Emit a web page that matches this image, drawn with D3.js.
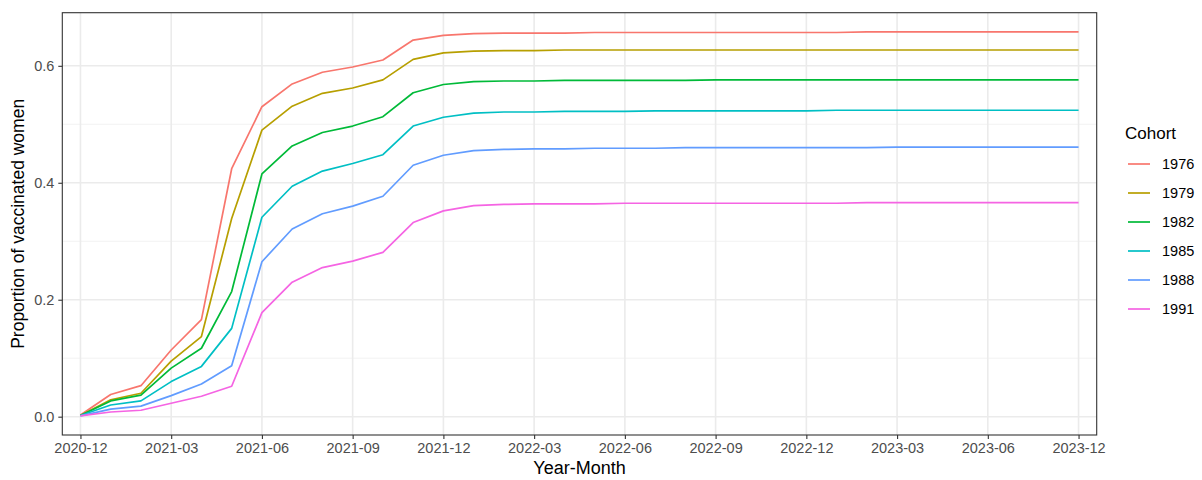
<!DOCTYPE html>
<html>
<head>
<meta charset="utf-8">
<script src="https://cdn.jsdelivr.net/npm/d3@7"></script>
<style>
  body { margin: 0; background: #fff; }
  text { font-family: "Liberation Sans", Arial, sans-serif; }
</style>
</head>
<body>
<svg id="chart" width="1202" height="480"></svg>
<script>
var months = ["2020-12","2021-01","2021-02","2021-03","2021-04","2021-05","2021-06","2021-07",
  "2021-08","2021-09","2021-10","2021-11","2021-12","2022-01","2022-02","2022-03","2022-04",
  "2022-05","2022-06","2022-07","2022-08","2022-09","2022-10","2022-11","2022-12","2023-01",
  "2023-02","2023-03","2023-04","2023-05","2023-06","2023-08","2023-10","2023-12"];

var tickLabels = ["2020-12","2021-03","2021-06","2021-09","2021-12","2022-03","2022-06",
  "2022-09","2022-12","2023-03","2023-06","2023-12"];

var cohorts = ["1976","1979","1982","1985","1988","1991"];

var colors = ["#F8766D","#B79F00","#00BA38","#00BFC4","#619CFF","#F564E3"];

var c1976 = [0.003,0.038,0.053,0.114,0.166,0.424,0.530,0.569,0.589,0.598,0.610,0.644,0.652,0.655,
  0.656,0.656,0.656,0.657,0.657,0.657,0.657,0.657,0.657,0.657,0.657,0.657,0.658,0.658,0.658,0.658,
  0.658,0.658,0.658,0.658];
var c1979 = [0.002,0.029,0.040,0.095,0.137,0.339,0.490,0.531,0.553,0.562,0.576,0.611,0.622,0.625,
  0.626,0.626,0.627,0.627,0.627,0.627,0.627,0.627,0.627,0.627,0.627,0.627,0.627,0.627,0.627,0.627,
  0.627,0.627,0.627,0.627];
var c1982 = [0.002,0.027,0.037,0.083,0.117,0.214,0.415,0.463,0.486,0.497,0.513,0.554,0.568,0.573,
  0.574,0.574,0.575,0.575,0.575,0.575,0.575,0.576,0.576,0.576,0.576,0.576,0.576,0.576,0.576,0.576,
  0.576,0.576,0.576,0.576];
var c1985 = [0.002,0.020,0.027,0.060,0.086,0.151,0.341,0.394,0.420,0.433,0.448,0.497,0.512,0.519,
  0.521,0.521,0.522,0.522,0.522,0.523,0.523,0.523,0.523,0.523,0.523,0.524,0.524,0.524,0.524,0.524,
  0.524,0.524,0.524,0.524];
var c1988 = [0.0015,0.013,0.018,0.036,0.056,0.087,0.265,0.321,0.347,0.360,0.377,0.430,0.447,0.455,
  0.457,0.458,0.458,0.459,0.459,0.459,0.460,0.460,0.460,0.460,0.460,0.460,0.460,0.461,0.461,0.461,
  0.461,0.461,0.461,0.461];
var c1991 = [0.0015,0.008,0.011,0.023,0.035,0.052,0.178,0.230,0.255,0.266,0.281,0.332,0.352,0.361,
  0.363,0.364,0.364,0.364,0.365,0.365,0.365,0.365,0.365,0.365,0.365,0.365,0.366,0.366,0.366,0.366,
  0.366,0.366,0.366,0.366];

var series = [c1976, c1979, c1982, c1985, c1988, c1991];

var svg = d3.select("#chart");

var panel = { left: 62.3, right: 1096.7, top: 12.7, bottom: 435 };

var x = d3.scalePoint()
  .domain(months)
  .range([panel.left, panel.right])
  .padding(0.6);

var all = d3.merge(series),
    lo = d3.min(all),
    hi = d3.max(all),
    pad = (hi - lo) * 0.05;

var y = d3.scaleLinear()
  .domain([lo - pad, hi + pad])
  .range([panel.bottom, panel.top]);

var majorY = [0, 0.2, 0.4, 0.6],
    minorY = [0.1, 0.3, 0.5];

var grid = svg.append("g");

grid.selectAll("line.minor")
  .data(minorY)
  .enter().append("line")
  .attr("x1", panel.left).attr("x2", panel.right)
  .attr("y1", y).attr("y2", y)
  .attr("stroke", "#f2f2f2")
  .attr("stroke-width", 1);

grid.selectAll("line.majory")
  .data(majorY)
  .enter().append("line")
  .attr("x1", panel.left).attr("x2", panel.right)
  .attr("y1", y).attr("y2", y)
  .attr("stroke", "#ebebeb")
  .attr("stroke-width", 1.6);

grid.selectAll("line.majorx")
  .data(tickLabels)
  .enter().append("line")
  .attr("x1", x).attr("x2", x)
  .attr("y1", panel.top).attr("y2", panel.bottom)
  .attr("stroke", "#ebebeb")
  .attr("stroke-width", 1.6);

var line = d3.line()
  .x(function(d, i) { return x(months[i]); })
  .y(function(d) { return y(d); });

svg.append("g")
  .selectAll("path")
  .data(series)
  .enter().append("path")
  .attr("d", line)
  .attr("fill", "none")
  .attr("stroke", function(d, i) { return colors[i]; })
  .attr("stroke-width", 1.7)
  .attr("stroke-linejoin", "round");

svg.append("rect")
  .attr("x", panel.left)
  .attr("y", panel.top)
  .attr("width", panel.right - panel.left)
  .attr("height", panel.bottom - panel.top)
  .attr("fill", "none")
  .attr("stroke", "#333333")
  .attr("stroke-width", 1.1);

var xAxis = d3.axisBottom(x)
  .tickValues(tickLabels)
  .tickSize(4)
  .tickPadding(4);

var yAxis = d3.axisLeft(y)
  .tickValues(majorY)
  .tickFormat(d3.format(".1f"))
  .tickSize(4)
  .tickPadding(4);

svg.append("g")
  .attr("transform", "translate(0," + panel.bottom + ")")
  .call(xAxis)
  .call(styleAxis);

svg.append("g")
  .attr("transform", "translate(" + panel.left + ",0)")
  .call(yAxis)
  .call(styleAxis);

function styleAxis(g) {
  g.select(".domain").remove();
  g.selectAll(".tick line").attr("stroke", "#333333").attr("stroke-width", 1.1);
  g.selectAll(".tick text")
    .attr("fill", "#4d4d4d")
    .style("font-size", "14.5px");
}

svg.append("text")
  .attr("x", (panel.left + panel.right) / 2)
  .attr("y", 474)
  .attr("text-anchor", "middle")
  .style("font-size", "18px")
  .attr("fill", "#000")
  .text("Year-Month");

svg.append("text")
  .attr("transform", "translate(24," + ((panel.top + panel.bottom) / 2) + ") rotate(-90)")
  .attr("text-anchor", "middle")
  .style("font-size", "17.5px")
  .attr("fill", "#000")
  .text("Proportion of vaccinated women");

var legend = svg.append("g")
  .attr("transform", "translate(1125,0)");

legend.append("text")
  .attr("x", 0)
  .attr("y", 139)
  .style("font-size", "17px")
  .attr("fill", "#000")
  .text("Cohort");

var keys = legend.selectAll("g.key")
  .data(cohorts)
  .enter().append("g")
  .attr("transform", function(d, i) { return "translate(0," + (164 + i * 29) + ")"; });

keys.append("line")
  .attr("x1", 3).attr("x2", 25)
  .attr("y1", 0).attr("y2", 0)
  .attr("stroke", function(d, i) { return colors[i]; })
  .attr("stroke-width", 1.7);

keys.append("text")
  .attr("x", 37)
  .attr("y", 5)
  .style("font-size", "14.5px")
  .attr("fill", "#000")
  .text(function(d) { return d; });
</script>
</body>
</html>
